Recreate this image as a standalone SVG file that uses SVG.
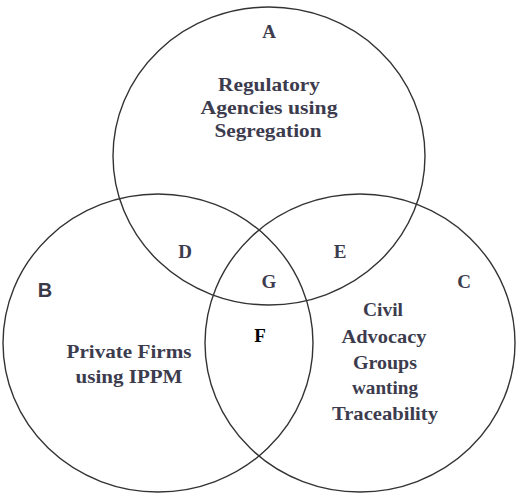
<svg xmlns="http://www.w3.org/2000/svg" width="516" height="495" viewBox="0 0 516 495">
<style>
.c{fill:none;stroke:#333;stroke-width:1.4}
.t{font-family:"Liberation Serif","Times New Roman",serif;font-weight:bold;font-size:19px;fill:#3c3c4e;text-anchor:middle}
.l{font-family:"Liberation Serif","Times New Roman",serif;font-weight:bold;font-size:19px;fill:#3c3c4e;text-anchor:middle}
.s{font-family:"Liberation Sans",Arial,sans-serif;font-weight:bold;font-size:20px;fill:#3a3a48;text-anchor:middle}
</style>
<rect width="516" height="495" fill="#fff"/>
<g id="circleA">
<ellipse class="c" cx="269" cy="156" rx="156" ry="149"/>
<text class="l" x="269" y="38">A</text>
<text class="t" x="269" y="91" textLength="102" lengthAdjust="spacingAndGlyphs">Regulatory</text>
<text class="t" x="269" y="114" textLength="137" lengthAdjust="spacingAndGlyphs">Agencies using</text>
<text class="t" x="268" y="137" textLength="107" lengthAdjust="spacingAndGlyphs">Segregation</text>
</g>
<g id="circleB">
<ellipse class="c" cx="158" cy="343" rx="155" ry="149"/>
<text class="s" x="45" y="297">B</text>
<text class="t" x="129" y="358" textLength="125" lengthAdjust="spacingAndGlyphs">Private Firms</text>
<text class="t" x="129" y="383" textLength="107" lengthAdjust="spacingAndGlyphs">using IPPM</text>
</g>
<g id="circleC">
<ellipse class="c" cx="360" cy="343" rx="155" ry="149"/>
<text class="l" x="464" y="288">C</text>
<text class="t" x="383" y="316" textLength="40" lengthAdjust="spacingAndGlyphs">Civil</text>
<text class="t" x="384" y="343" textLength="85" lengthAdjust="spacingAndGlyphs">Advocacy</text>
<text class="t" x="385" y="369" textLength="64" lengthAdjust="spacingAndGlyphs">Groups</text>
<text class="t" x="385" y="394" textLength="66" lengthAdjust="spacingAndGlyphs">wanting</text>
<text class="t" x="385" y="420" textLength="106" lengthAdjust="spacingAndGlyphs">Traceability</text>
</g>
<g id="regionD"><text class="l" x="185" y="258">D</text></g>
<g id="regionE"><text class="l" x="340" y="258">E</text></g>
<g id="regionG"><text class="l" x="269" y="288">G</text></g>
<g id="regionF"><text class="l" x="260" y="342" style="fill:#000">F</text></g>
</svg>
